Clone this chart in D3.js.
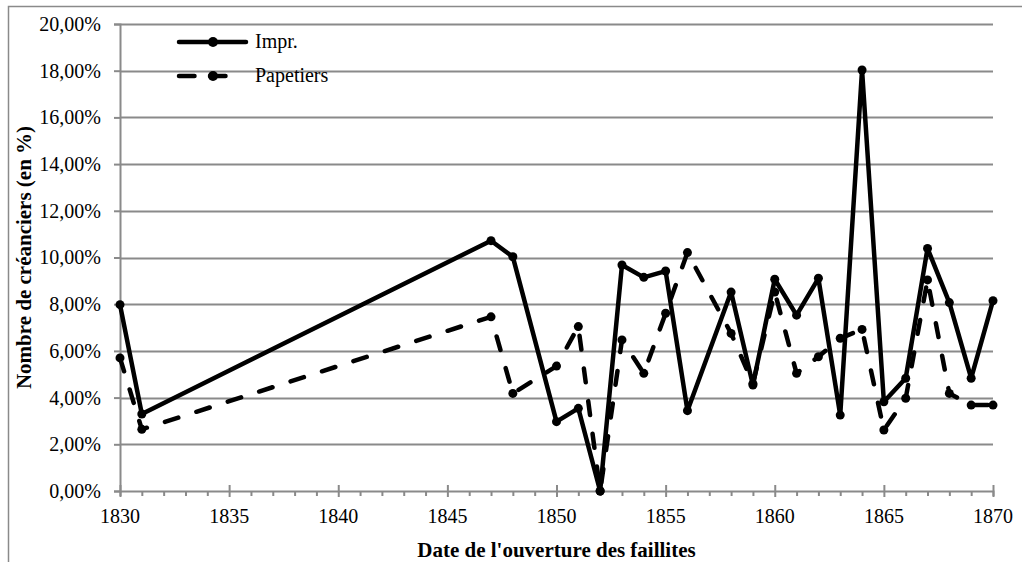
<!DOCTYPE html>
<html>
<head>
<meta charset="utf-8">
<script src="https://cdn.jsdelivr.net/npm/d3@7"></script>
<style>
  html, body { margin: 0; padding: 0; background: #fff; }
  svg { display: block; font-family: "Liberation Serif", "Times New Roman", serif; }
</style>
</head>
<body>
<svg id="chart" width="1022" height="562"></svg>
<script>
// Years with recorded bankruptcies
const years = [1830, 1831, 1847, 1848, 1850, 1851, 1852, 1853, 1854, 1855, 1856,
               1858, 1859, 1860, 1861, 1862, 1863, 1864, 1865, 1866, 1867, 1868, 1869, 1870];
// Share of creditors (fraction) — printers
const imprValues = [0.0798, 0.0330, 0.1072, 0.1003, 0.0297, 0.0354, 0.0000, 0.0968, 0.0915, 0.0942, 0.0344,
                    0.0852, 0.0454, 0.0907, 0.0753, 0.0911, 0.0325, 0.1803, 0.0382, 0.0483, 0.1039, 0.0807, 0.0483, 0.0815];
// Share of creditors (fraction) — paper merchants
const papetiersValues = [0.0570, 0.0264, 0.0746, 0.0418, 0.0535, 0.0704, 0.0000, 0.0647, 0.0504, 0.0761, 0.1021,
                         0.0675, 0.0460, 0.0852, 0.0504, 0.0575, 0.0654, 0.0692, 0.0261, 0.0397, 0.0904, 0.0418, 0.0368, 0.0368];
const seriesNames = ["Impr.", "Papetiers"];
const xTickYears = [1830, 1835, 1840, 1845, 1850, 1855, 1860, 1865, 1870];
const yTickValues = [0, 0.02, 0.04, 0.06, 0.08, 0.10, 0.12, 0.14, 0.16, 0.18, 0.20];
const xTitle = "Date de l'ouverture des faillites";
const yTitle = "Nombre de créanciers (en %)";

const svg = d3.select("#chart");
const grey = "#8a8a8a";

const x = d3.scaleLinear().domain([1830, 1870]).range([120, 993]);
const y = d3.scaleLinear().domain([0, 0.2]).range([491, 24]);

const fr = d3.formatLocale({decimal: ",", thousands: " ", grouping: [3], currency: ["", " €"], percent: "%"});
const pct = fr.format(".2%");

// outer chart frame (left and top edges)
svg.append("path")
  .attr("d", "M8.5,562 V6.5 H1022")
  .attr("fill", "none").attr("stroke", grey).attr("stroke-width", 1.5);

// horizontal gridlines
svg.append("g").selectAll("line").data(yTickValues.filter(v => v > 0)).join("line")
  .attr("x1", x(1830)).attr("x2", x(1870))
  .attr("y1", d => Math.round(y(d)) + 0.5).attr("y2", d => Math.round(y(d)) + 0.5)
  .attr("stroke", grey).attr("stroke-width", 2);

// y axis
const yAxis = svg.append("g").attr("transform", `translate(${x(1830)},0)`)
  .call(d3.axisLeft(y).tickValues(yTickValues).tickFormat(pct).tickSize(6).tickPadding(13));
yAxis.select(".domain").attr("stroke", grey).attr("stroke-width", 2);
yAxis.selectAll(".tick line").attr("stroke", grey).attr("stroke-width", 2);
yAxis.selectAll("text").attr("font-size", 20).attr("fill", "#000")
  .attr("font-family", "Liberation Serif");

// x axis: minor yearly ticks below, major 5-year ticks crossing the axis
const xAxis = svg.append("g").attr("transform", `translate(0,${y(0)})`)
  .call(d3.axisBottom(x).tickValues(d3.range(1830, 1871)).tickFormat("").tickSize(5));
xAxis.select(".domain").attr("stroke", grey).attr("stroke-width", 2);
xAxis.selectAll(".tick line").attr("stroke", grey).attr("stroke-width", 2);
xAxis.selectAll(".tick").filter(d => d % 5 === 0).select("line").attr("y1", -6).attr("y2", 6);
svg.append("g").selectAll("text").data(xTickYears).join("text")
  .attr("x", d => x(d)).attr("y", 523)
  .attr("text-anchor", "middle").attr("font-size", 20).text(d => d);

// axis titles
svg.append("text").attr("x", (x(1830) + x(1870)) / 2).attr("y", 557)
  .attr("text-anchor", "middle").attr("font-size", 21).attr("font-weight", "bold").text(xTitle);
svg.append("text").attr("transform", `translate(31,${(y(0) + y(0.2)) / 2}) rotate(-90)`)
  .attr("text-anchor", "middle").attr("font-size", 21).attr("font-weight", "bold").text(yTitle);

// series
const series = [
  {name: seriesNames[0], values: imprValues, dash: null},
  {name: seriesNames[1], values: papetiersValues, dash: "14,19"}
];
const line = d3.line().x(d => x(d[0])).y(d => y(d[1]));

series.forEach(s => {
  const pts = years.map((yr, i) => [yr, s.values[i]]);
  svg.append("path").datum(pts)
    .attr("d", line).attr("fill", "none").attr("stroke", "#000")
    .attr("stroke-width", 4.5).attr("stroke-linejoin", "round").attr("stroke-linecap", "round")
    .attr("stroke-dasharray", s.dash);
  svg.append("g").selectAll("circle").data(pts).join("circle")
    .attr("cx", d => x(d[0])).attr("cy", d => y(d[1])).attr("r", 4.5).attr("fill", "#000");
});

// legend
const legend = svg.append("g");
series.forEach((s, i) => {
  const ly = 42 + i * 34;
  legend.append("line").attr("x1", 179).attr("x2", s.dash ? 228 : 246).attr("y1", ly).attr("y2", ly)
    .attr("stroke", "#000").attr("stroke-width", 4.5).attr("stroke-linecap", "round")
    .attr("stroke-dasharray", s.dash ? "15.5,15.5" : null);
  legend.append("circle").attr("cx", 213).attr("cy", ly).attr("r", 5).attr("fill", "#000");
  legend.append("text").attr("x", 255).attr("y", ly + 6).attr("font-size", 20).text(s.name);
});
</script>
</body>
</html>
